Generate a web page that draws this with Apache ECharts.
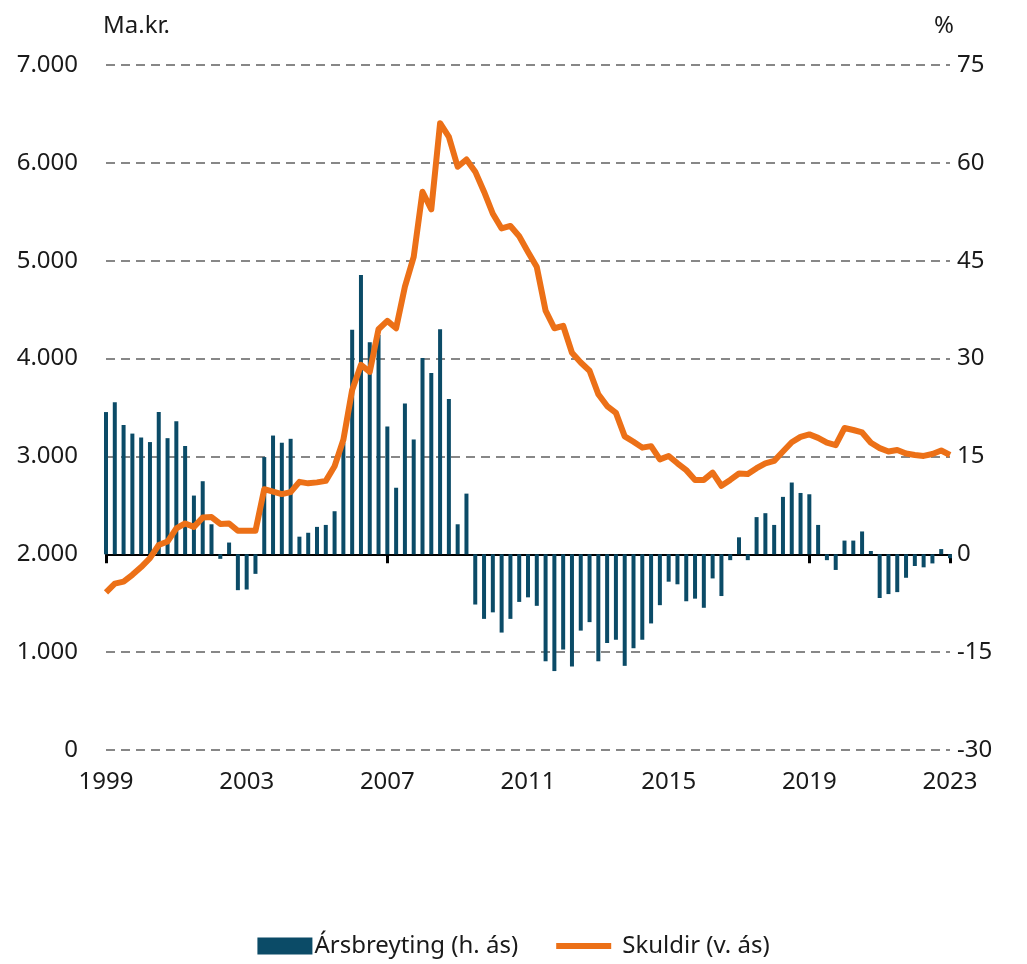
<!DOCTYPE html>
<html>
<head>
<meta charset="utf-8">
<script src="https://cdn.jsdelivr.net/npm/echarts@6/dist/echarts.min.js"></script>
<style>
  html, body { margin: 0; padding: 0; background: #fff; }
  #chart { width: 1027px; height: 964px; }
</style>
</head>
<body>
<div id="chart"></div>
<script>
// quarterly, 1999K1 - 2023K1
const firstYear = 1999
const lastYear = 2023
const tickYears = ['1999', '2003', '2007', '2011', '2015', '2019', '2023']

// Ársbreyting (%), right axis
const changePct = [
  21.8, 23.3, 19.8, 18.5, 17.9, 17.2, 21.8, 17.8, 20.4, 16.6, 9.0, 11.2,
  4.6, -0.7, 1.8, -5.5, -5.4, -3.0, 14.9, 18.2, 17.1, 17.7, 2.7, 3.3,
  4.2, 4.5, 6.6, 17.1, 34.4, 42.8, 32.5, 33.6, 19.6, 10.2, 23.1, 17.6,
  30.1, 27.8, 34.5, 23.8, 4.6, 9.3, -7.7, -9.9, -8.9, -12.0, -9.9, -7.3,
  -6.6, -7.9, -16.4, -17.9, -14.6, -17.2, -11.7, -10.4, -16.4, -13.6, -13.1, -17.1,
  -14.4, -13.1, -10.6, -7.8, -4.2, -4.6, -7.2, -6.8, -8.2, -3.7, -6.4, -0.9,
  2.6, -0.9, 5.7, 6.3, 4.5, 8.8, 11.0, 9.4, 9.2, 4.5, -0.9, -2.4,
  2.1, 2.1, 3.5, 0.5, -6.7, -6.1, -5.8, -3.6, -1.8, -2.0, -1.4, 0.8,
  -0.6,
]

// Skuldir (Ma.kr.), left axis
const debt = [
  1610, 1700, 1720, 1790, 1870, 1960, 2095, 2130, 2265, 2315, 2280, 2375,
  2380, 2310, 2315, 2240, 2240, 2240, 2665, 2640, 2615, 2635, 2740, 2725,
  2735, 2750, 2900, 3170, 3680, 3935, 3865, 4300, 4385, 4310, 4735, 5040,
  5705, 5525, 6405, 6265, 5960, 6035, 5910, 5705, 5480, 5330, 5355, 5250,
  5090, 4935, 4490, 4310, 4335, 4060, 3960, 3875, 3635, 3515, 3445, 3205,
  3150, 3090, 3105, 2970, 3005, 2930, 2860, 2760, 2760, 2835, 2700, 2760,
  2825, 2820, 2880, 2930, 2955, 3050, 3145, 3200, 3225, 3190, 3140, 3115,
  3290, 3270, 3245, 3140, 3085, 3050, 3065, 3030, 3015, 3005, 3025, 3060,
  3015,
]

const quarters = []
for (let y = firstYear; y <= lastYear; y++) {
  for (let q = 1; q <= 4; q++) {
    if (y === lastYear && q > 1) break
    quarters.push(y + 'K' + q)
  }
}

const fontFamily = '"Noto Sans", "Open Sans", sans-serif'
const textColor = '#1a1a1a'
const barColor = '#0b4b67'
const lineColor = '#ec7017'
const gridRect = { left: 106, right: 77, top: 65, bottom: 214 }

function isYearTick(index) {
  const q = quarters[index]
  return q.endsWith('K1') && tickYears.indexOf(q.slice(0, 4)) >= 0
}

function thousands(v) {
  return String(v).replace(/\B(?=(\d{3})+(?!\d))/g, '.')
}

const myChart = echarts.init(document.getElementById('chart'), null, {
  renderer: 'canvas',
})

const option = {
  animation: false,
  textStyle: { fontFamily: fontFamily, color: textColor },
  grid: [
    Object.assign({}, gridRect),
    Object.assign({}, gridRect),
  ],
  legend: {
    top: 929,
    left: 'center',
    itemWidth: 55,
    itemHeight: 17,
    itemGap: 38,
    textStyle: {
      fontSize: 24,
      color: textColor,
      fontFamily: fontFamily,
      padding: [0, 0, 0, -3],
    },
    data: [
      { name: 'Ársbreyting (h. ás)', icon: 'rect' },
      {
        name: 'Skuldir (v. ás)',
        icon: 'path://M0 0 H100 V11 H0 Z',
        textStyle: { padding: [0, 0, 0, 6] },
      },
    ],
  },
  xAxis: [
    {
      type: 'category',
      gridIndex: 0,
      data: quarters,
      boundaryGap: false,
      axisLine: { show: false },
      axisTick: { show: false },
      axisLabel: {
        interval: function (i) {
          return isYearTick(i)
        },
        formatter: function (v) {
          return v.slice(0, 4)
        },
        margin: 20,
        fontSize: 24,
        color: textColor,
      },
    },
    {
      type: 'category',
      gridIndex: 1,
      data: quarters,
      boundaryGap: false,
      axisLine: {
        onZero: true,
        lineStyle: { color: '#000', width: 2 },
      },
      axisTick: {
        interval: function (i) {
          return isYearTick(i)
        },
        length: 9,
        lineStyle: { color: '#000', width: 3 },
      },
      axisLabel: { show: false },
    },
  ],
  yAxis: [
    {
      type: 'value',
      gridIndex: 0,
      min: 0,
      max: 7000,
      interval: 1000,
      name: 'Ma.kr.',
      nameGap: 27,
      nameTextStyle: {
        fontSize: 24,
        color: textColor,
        align: 'left',
        padding: [0, 0, 0, -3],
      },
      axisLine: { show: false },
      axisTick: { show: false },
      axisLabel: {
        margin: 28,
        fontSize: 24,
        color: textColor,
        formatter: thousands,
      },
      splitLine: {
        lineStyle: { color: '#878787', width: 2, type: [9, 6] },
      },
    },
    {
      type: 'value',
      gridIndex: 1,
      position: 'right',
      min: -30,
      max: 75,
      interval: 15,
      name: '%',
      nameGap: 27,
      nameTextStyle: {
        fontSize: 24,
        color: textColor,
        align: 'right',
        padding: [0, -4, 0, 0],
      },
      axisLine: { show: false },
      axisTick: { show: false },
      axisLabel: {
        margin: 7,
        fontSize: 24,
        color: textColor,
      },
      splitLine: { show: false },
    },
  ],
  series: [
    {
      name: 'Ársbreyting (h. ás)',
      type: 'bar',
      xAxisIndex: 1,
      yAxisIndex: 1,
      data: changePct,
      barWidth: 4,
      itemStyle: { color: barColor },
      z: 2,
    },
    {
      name: 'Skuldir (v. ás)',
      type: 'line',
      xAxisIndex: 0,
      yAxisIndex: 0,
      data: debt,
      symbol: 'none',
      lineStyle: { color: lineColor, width: 6, join: 'round' },
      itemStyle: { color: lineColor },
      z: 5,
    },
  ],
}

myChart.setOption(option)
</script>
</body>
</html>
